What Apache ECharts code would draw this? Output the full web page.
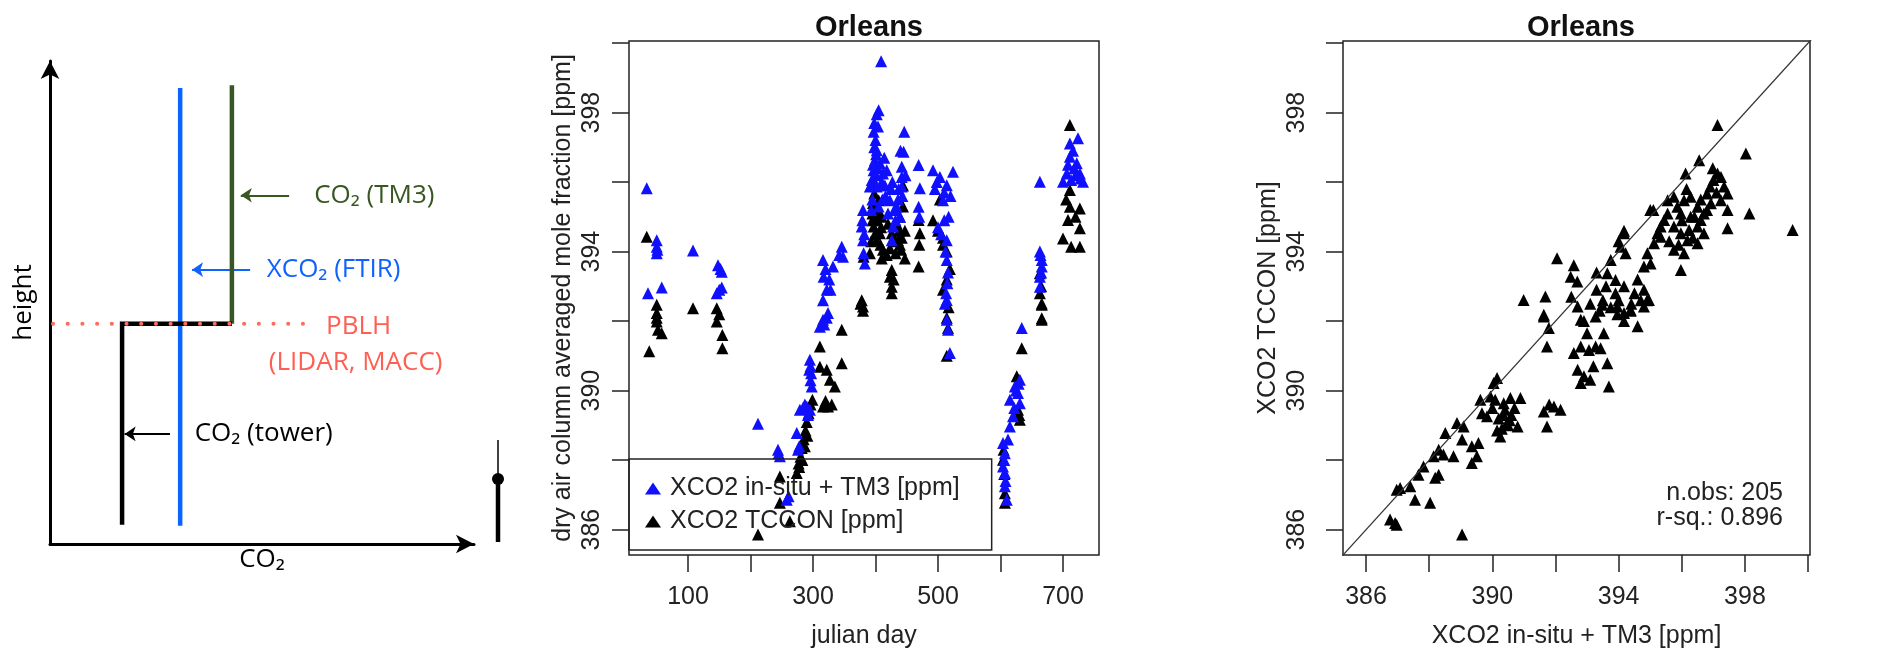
<!DOCTYPE html>
<html>
<head>
<meta charset="utf-8">
<script src="https://cdn.jsdelivr.net/npm/echarts@6/dist/echarts.min.js"></script>
<style>
html,body{margin:0;padding:0;background:#fff}
#chart{width:1894px;height:656px}
</style>
</head>
<body>
<div id="chart"></div>
<script>
// --- schematic (left panel), values in arbitrary units 0..10
var towerProfile = [[1.70, 0.40], [1.70, 4.56], [4.29, 4.56]];
var ftirProfile = [[3.07, 0.38], [3.07, 9.44]];
var tm3Profile = [[4.29, 4.56], [4.29, 9.50]];
var pblhLevel = [[0.07, 4.56], [6.06, 4.56]];
var pointerFrom = [[5.64, 7.22], [4.72, 5.68], [2.83, 2.28]];
var pointerTo = [[4.50, 7.22], [3.35, 5.68], [1.76, 2.28]];
var noteText = ['CO\u2082 (TM3)', 'XCO\u2082 (FTIR)', 'PBLH', '(LIDAR, MACC)', 'CO\u2082 (tower)'];
var notePos = [[6.22, 7.22], [5.10, 5.68], [6.50, 4.50], [5.15, 3.75], [3.40, 2.28]];

// --- time series (middle panel): [julian day, ppm]
var insituPts = [
  [34,395.82],[50,394.33],[50,394.14],[50,393.95],[51,394.05],[36,392.8],[58,392.97],
  [108,394.03],[148,393.61],[152,393.5],[154,393.42],[146,392.8],[150,392.9],[154,392.97],
  [212,389.05],
  [244,388.3],[245,388.2],[247,388.11],[258,386.86],[261,386.96],
  [274,388.78],[276,388.3],[278,388.4],[279,389.45],[284,389.5],[290,389.54],[295,389.45],[287,389.6],[292,389.3],
  [295,390.89],[296,390.7],[297,390.5],[296,390.3],[298,390.12],[294,390.6],
  [311,391.84],[316,392.04],[324,392.23],[318,391.9],[322,392.1],
  [316,393.76],[317,393.28],[322,392.9],[316,392.6],[328,392.9],[332,393.57],[320,393.5],[326,393.2],
  [346,394.14],[348,393.85],[342,393.9],
  [380,395.2],[378,394.72],[380,394.33],[381,393.95],[383,393.66],[379,394.9],[382,394.5],
  [409,399.48],[405,398.07],[402,397.95],
  [397,397.45],[400,397.21],[402,396.92],[399,396.63],[397,396.34],[394,396.06],[398,397.0],[401,396.8],[396,396.5],
  [407,396.54],[412,396.25],[418,396.34],[410,396.0],[415,395.9],[391,395.87],[402,395.87],[395,395.5],
  [404,397.6],[398,397.7],[400,396.2],[404,396.4],[414,396.7],[416,395.6],[405,395.3],[393,395.2],[411,395.5],
  [423,395.48],[434,395.29],[439,395.0],[428,394.72],[426,394.33],[420,395.1],[432,394.9],[436,395.5],[425,395.8],
  [430,395.2],[427,396.0],[437,395.8],
  [446,397.45],[445,396.87],[442,396.44],[442,396.15],[442,395.87],[443,395.6],[448,396.2],[440,396.9],
  [469,396.49],[471,395.82],[469,395.29],[470,395.0],
  [492,396.34],[503,396.15],[514,395.91],[524,396.3],[508,395.48],[517,395.0],[498,396.0],[510,395.7],[520,395.6],[495,395.8],
  [514,394.33],[514,393.76],[515,393.09],[514,392.61],[514,392.04],[512,394.0],[516,393.4],[513,392.8],
  [511,392.5],[516,391.75],[519,391.08],[500,394.7],[505,394.5],[510,394.9],
  [604,388.49],[607,388.2],[604,387.82],[607,387.63],[607,387.25],[610,386.86],[606,388.0],[608,387.4],
  [615,389.74],[623,390.12],[628,389.93],[631,390.31],[631,389.64],[620,389.26],[615,388.97],[612,388.59],[625,390.0],[629,390.2],[622,389.5],
  [634,391.8],
  [663,394.0],[666,393.76],[666,393.57],[663,393.28],[663,392.99],[664,393.9],[665,393.4],[663,396.01],
  [711,397.11],[724,397.26],[711,396.73],[722,396.54],[706,396.25],[727,396.25],[700,396.01],[713,396.06],
  [732,396.01],[716,396.9],[720,396.2],[708,396.5],[728,396.1],[718,396.4]
];
var tcconPts = [
  [34,394.43],[50,392.47],[50,392.23],[50,391.99],[52,391.75],[58,391.65],[50,392.1],[38,391.13],
  [108,392.37],[146,392.37],[146,391.99],[155,391.6],[155,391.22],[150,392.2],
  [212,385.86],
  [247,387.53],[247,386.77],[263,386.24],
  [274,387.63],[277,387.9],[280,388.1],[282,388.35],[285,388.6],[288,388.85],[290,389.1],[293,389.35],[296,389.6],[299,389.74],
  [283,388.0],[278,387.8],[287,388.4],[291,388.7],
  [311,391.27],[311,390.69],[322,390.6],[327,390.31],[335,390.12],[316,389.54],[324,389.54],[320,389.7],[330,389.6],
  [346,391.75],[346,390.79],
  [380,392.42],[378,392.6],[376,392.5],[380,392.3],[381,393.85],
  [398,395.67],[405,395.48],[400,395.29],[410,395.0],[397,394.72],[407,394.53],[402,394.33],[391,393.95],[412,394.05],
  [395,395.1],[403,394.9],[408,394.2],[399,394.5],[393,394.3],
  [401,395.9],[396,395.4],[404,395.1],[409,394.7],[395,394.9],[410,393.8],
  [426,394.53],[436,394.33],[441,394.05],[438,394.6],[432,393.95],[420,394.8],
  [430,394.3],[423,394.1],[434,394.8],[418,393.9],[442,394.4],
  [426,393.47],[423,393.28],[426,392.99],[426,392.8],[429,393.2],
  [444,395.9],[444,395.3],[439,395.0],[447,394.6],[439,394.2],[447,393.8],
  [469,394.91],[471,394.53],[469,393.57],[470,394.2],
  [503,395.5],[492,394.9],[508,394.4],[514,394.0],[519,393.5],[508,394.2],[500,394.6],
  [514,393.2],[508,392.9],[517,392.4],[514,392.1],[514,391.0],[516,391.8],
  [604,388.01],[607,387.05],[607,386.77],[606,387.6],[605,388.3],
  [626,390.41],[631,389.16],[628,389.45],[630,389.3],[634,391.22],
  [663,393.38],[663,392.8],[666,392.51],[666,392.08],[666,392.47],[666,392.04],[665,393.0],
  [711,397.64],[711,395.77],[711,395.29],[727,395.24],[708,394.91],[727,394.67],[700,394.38],[713,394.14],[727,394.14],
  [720,395.0],[705,395.5]
];

// --- correlation (right panel): [in-situ + TM3, TCCON]
var pairPts = [
  [386.76,386.29],[386.92,386.19],[386.97,386.14],[389.04,385.86],
  [386.97,387.15],[387.4,387.25],[387.08,387.2],[387.55,386.86],[388.03,386.77],
  [387.66,387.58],[387.82,387.82],[388.14,388.11],[388.3,388.3],[388.45,388.16],[388.3,387.58],[388.19,387.49],
  [388.77,388.11],[388.51,388.78],[388.88,389.07],[389.09,388.97],
  [389.04,388.59],[389.35,388.4],[389.51,388.11],[389.35,387.92],[389.56,388.49],
  [389.62,389.74],[389.67,389.35],[389.83,389.26],[390.04,390.22],[390.15,390.36],
  [389.94,389.83],[390.09,389.74],[390.36,389.64],[390.57,389.79],[390.89,389.79],
  [390.2,389.2],[390.35,389.3],[390.45,389.05],[390.6,389.3],[390.3,388.9],[390.5,389.0],[390.15,388.85],
  [390.25,388.68],[390.8,388.97],[390.4,389.45],[390.0,389.5],[390.7,389.5],[390.55,389.15],
  [391.73,391.27],[391.63,392.13],[391.73,388.97],[391.63,389.4],[391.95,389.54],[392.16,389.45],[391.8,389.6],
  [391.79,391.8],
  [392.58,391.08],[392.8,391.27],[393.06,391.17],[393.27,391.27],[393.43,391.22],
  [392.7,390.6],[392.9,390.41],[393.1,390.31],[392.8,390.22],[393.2,390.7],[393.64,390.79],[393.69,390.12],
  [392.8,392.04],[393.0,391.65],[393.53,391.65],[393.27,392.13],[392.7,392.42],[393.48,392.47],
  [393.96,392.42],[394.17,392.23],[394.38,392.32],[394.8,392.42],[394.96,392.61],
  [390.99,392.61],[391.68,392.71],[391.63,392.18],
  [392.05,393.81],[392.58,393.61],[392.48,393.28],[392.69,393.14],
  [393.1,392.5],[392.9,392.0],[393.5,392.6],[393.75,392.4],[393.96,392.2],[394.17,392.0],[394.38,392.3],
  [394.7,392.6],[394.8,392.9],[394.9,392.6],[394.5,392.8],[394.6,393.2],[394.17,393.0],[394.6,391.85],
  [393.3,392.9],[393.6,393.0],[393.9,392.8],[394.4,392.5],[394.0,392.6],[393.4,392.3],
  [393.64,393.38],[393.9,393.18],[393.75,393.76],[394.17,394.53],[394.06,394.14],[394.22,393.95],
  [394.91,393.95],[395.12,394.24],[395.23,394.53],[395.01,393.66],[394.8,393.57],[395.33,394.72],
  [395.44,394.91],[395.55,395.1],[395.33,394.43],
  [395.75,394.72],[395.97,394.53],[396.18,394.33],[396.5,394.24],[396.07,393.95],[395.75,394.05],
  [396.28,395.0],[395.97,395.1],[395.86,395.29],[396.07,395.48],[396.28,395.58],[396.5,395.29],
  [396.6,394.91],[396.7,394.53],[396.8,395.67],[396.9,395.87],[397.0,396.06],[397.24,396.15],
  [397.34,395.87],[397.45,395.67],[397.24,395.48],[396.92,395.39],[396.7,395.1],[396.5,394.72],[396.23,394.62],
  [396.0,394.9],[396.4,395.0],[396.6,395.5],[396.35,394.4],[395.9,394.2],[396.8,395.2],[397.1,395.7],
  [396.15,395.8],[395.6,394.3],
  [395.0,395.2],[395.55,395.48],[395.75,395.58],[396.12,396.25],[396.55,396.63],[396.98,396.4],[397.13,396.25],
  [395.97,393.47],[397.45,395.2],[397.45,394.67],[398.14,395.1],[397.13,397.64],[398.03,396.82],[399.51,394.62],
  [395.1,395.2],[394.17,394.6],[394.0,394.3],[393.3,393.4],[392.5,392.7]
];
var oneToOne = [[385, 385], [401, 401]];

var ppmTicks = [386, 388, 390, 392, 394, 396, 398, 400];
var ppmLabels = [386, 390, 394, 398];
var dayTicks = [100, 200, 300, 400, 500, 600, 700];
var dayLabels = [100, 300, 500, 700];
var nObs = 205;
var rSq = 0.896;

var rFont = '"Liberation Sans", Arial, sans-serif';
var noteFont = '"Open Sans", "Noto Sans", sans-serif';
var blue = '#1010ff';
var noteColors = ['#385723', '#0f62fe', '#ff5f52', '#ff5f52', '#000'];
var arrowColors = ['#385723', '#0f62fe', '#000'];

function ppmAxis(gridIndex, rotate, name, gap, margin) {
    return {
        type: 'value', gridIndex: gridIndex, min: 385.27, max: 400.06,
        name: name, nameLocation: 'middle', nameGap: gap,
        nameTextStyle: {fontFamily: rFont, fontSize: 25, color: '#222'},
        axisLine: {show: false},
        splitLine: {show: false},
        axisTick: {show: true, inside: false, length: 17, customValues: ppmTicks, lineStyle: {color: '#222', width: 1.5}},
        axisLabel: {show: true, customValues: ppmLabels, rotate: rotate ? 90 : 0, margin: margin,
            fontFamily: rFont, fontSize: 25, color: '#222'}
    };
}

var chart = echarts.init(document.getElementById('chart'));
var option = {
    animation: false,
    backgroundColor: '#fff',
    title: [
        {text: 'Orleans', left: 864, top: 8, textAlign: 'center',
            textStyle: {fontFamily: rFont, fontSize: 29, fontWeight: 'bold', color: '#111'}},
        {text: 'Orleans', left: 1576, top: 8, textAlign: 'center',
            textStyle: {fontFamily: rFont, fontSize: 29, fontWeight: 'bold', color: '#111'}}
    ],
    legend: {
        data: ['XCO2 in-situ + TM3 [ppm]', 'XCO2 TCCON [ppm]'],
        orient: 'vertical', left: 629, top: 459,
        padding: [17, 32, 16, 16],
        itemWidth: 16, itemHeight: 12, itemGap: 8,
        borderColor: '#222', borderWidth: 1.5, borderRadius: 0,
        icon: 'triangle',
        textStyle: {fontFamily: rFont, fontSize: 25, color: '#222', padding: [0, 0, 0, 4]}
    },
    grid: [
        {left: 50, top: 61, width: 424, height: 483, show: false},
        {left: 629, top: 41, width: 470, height: 514, show: true, borderColor: '#222', borderWidth: 1.5},
        {left: 1343, top: 41, width: 467, height: 514, show: true, borderColor: '#222', borderWidth: 1.5}
    ],
    xAxis: [
        {type: 'value', gridIndex: 0, min: 0, max: 10, name: 'CO\u2082', nameLocation: 'middle', nameGap: 3,
            nameTextStyle: {fontFamily: noteFont, fontSize: 26, color: '#000'},
            axisLine: {show: true, symbol: ['none', 'arrow'], symbolSize: [14, 18], lineStyle: {color: '#000', width: 3}},
            axisTick: {show: false}, axisLabel: {show: false}, splitLine: {show: false}},
        {type: 'value', gridIndex: 1, min: 5.6, max: 757.6, name: 'julian day', nameLocation: 'middle', nameGap: 69,
            nameTextStyle: {fontFamily: rFont, fontSize: 25, color: '#222'},
            axisLine: {show: false}, splitLine: {show: false},
            axisTick: {show: true, length: 17, customValues: dayTicks, lineStyle: {color: '#222', width: 1.5}},
            axisLabel: {show: true, customValues: dayLabels, margin: 30, fontFamily: rFont, fontSize: 25, color: '#222'}},
        ppmAxis(2, false, 'XCO2 in-situ + TM3 [ppm]', 69, 30)
    ],
    yAxis: [
        {type: 'value', gridIndex: 0, min: 0, max: 10, name: 'height', nameLocation: 'middle', nameGap: 13,
            nameRotate: 90, nameTextStyle: {fontFamily: noteFont, fontSize: 26, color: '#000'},
            axisLine: {show: true, symbol: ['none', 'arrow'], symbolSize: [14, 18], lineStyle: {color: '#000', width: 3}},
            axisTick: {show: false}, axisLabel: {show: false}, splitLine: {show: false}},
        ppmAxis(1, true, 'dry air column averaged mole fraction [ppm]', 53, 24),
        ppmAxis(2, true, 'XCO2 TCCON [ppm]', 62, 33)
    ],
    series: [
        {type: 'line', xAxisIndex: 0, yAxisIndex: 0, data: ftirProfile, symbol: 'none', silent: true,
            lineStyle: {color: '#0a64ff', width: 4.5}},
        {type: 'line', xAxisIndex: 0, yAxisIndex: 0, data: tm3Profile, symbol: 'none', silent: true,
            lineStyle: {color: '#375623', width: 4.5}},
        {type: 'line', xAxisIndex: 0, yAxisIndex: 0, data: towerProfile, symbol: 'none', silent: true,
            lineStyle: {color: '#000', width: 4.5, join: 'miter'}},
        {type: 'line', xAxisIndex: 0, yAxisIndex: 0, data: pblhLevel, symbol: 'none', silent: true, z: 5,
            lineStyle: {color: '#ff6b5e', width: 4, type: [0.1, 14.6], cap: 'round'}},
        {type: 'lines', coordinateSystem: 'cartesian2d', xAxisIndex: 0, yAxisIndex: 0, silent: true,
            symbol: ['none', 'arrow'], symbolSize: 11,
            lineStyle: {width: 1.8, opacity: 1},
            data: pointerFrom.map(function (p, i) {
                return {coords: [p, pointerTo[i]], lineStyle: {color: arrowColors[i]}};
            })},
        {type: 'scatter', xAxisIndex: 0, yAxisIndex: 0, silent: true, symbolSize: 1,
            itemStyle: {color: 'rgba(0,0,0,0)', opacity: 1},
            data: notePos.map(function (p, i) {
                return {value: p, name: noteText[i],
                    label: {show: true, position: 'right', distance: 0, formatter: '{b}',
                        fontFamily: noteFont, fontSize: 26, color: noteColors[i]}};
            })},

        {name: 'XCO2 TCCON [ppm]', type: 'scatter', xAxisIndex: 1, yAxisIndex: 1, data: tcconPts,
            symbol: 'triangle', symbolSize: 12, itemStyle: {color: '#000', opacity: 1}},
        {name: 'XCO2 in-situ + TM3 [ppm]', type: 'scatter', xAxisIndex: 1, yAxisIndex: 1, data: insituPts,
            symbol: 'triangle', symbolSize: 12, itemStyle: {color: blue, opacity: 1}},

        {type: 'line', xAxisIndex: 2, yAxisIndex: 2, data: oneToOne, symbol: 'none', clip: true, silent: true,
            lineStyle: {color: '#333', width: 1.3}},
        {type: 'scatter', xAxisIndex: 2, yAxisIndex: 2, data: pairPts,
            symbol: 'triangle', symbolSize: 12, itemStyle: {color: '#000', opacity: 1}}
    ],
    graphic: [
        // little tower icon next to the schematic
        {type: 'line', shape: {x1: 498, y1: 440, x2: 498, y2: 474}, style: {stroke: '#000', lineWidth: 1.5}},
        {type: 'circle', shape: {cx: 498, cy: 479, r: 6}, style: {fill: '#000'}},
        {type: 'line', shape: {x1: 498, y1: 479, x2: 498, y2: 542}, style: {stroke: '#000', lineWidth: 4.5}},
        {type: 'text', x: 1783, y: 493, style: {text: 'n.obs: ' + nObs, align: 'right', verticalAlign: 'middle',
            fontFamily: rFont, fontSize: 25, fill: '#222'}},
        {type: 'text', x: 1783, y: 518, style: {text: 'r-sq.: ' + rSq, align: 'right', verticalAlign: 'middle',
            fontFamily: rFont, fontSize: 25, fill: '#222'}}
    ]
};
chart.setOption(option);
</script>
</body>
</html>
